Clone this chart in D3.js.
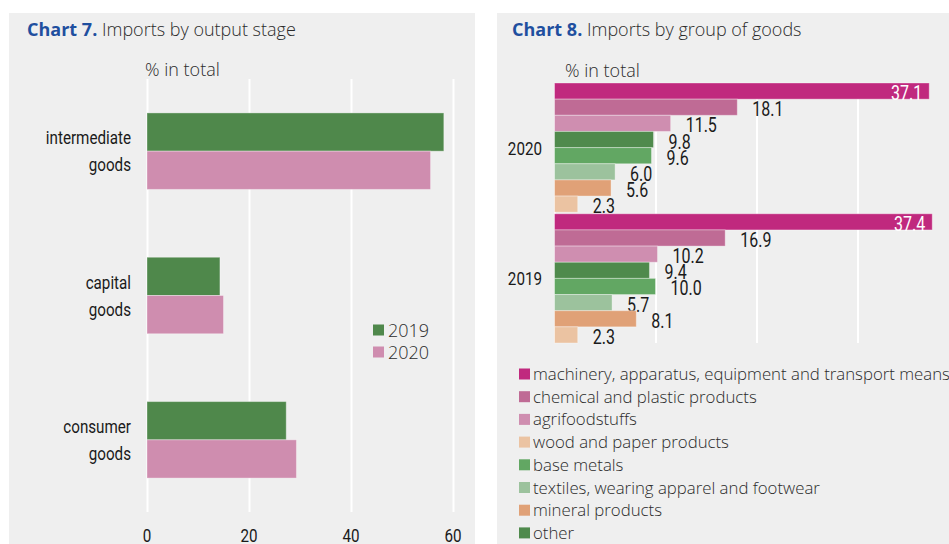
<!DOCTYPE html>
<html>
<head>
<meta charset="utf-8">
<script src="https://cdn.jsdelivr.net/npm/d3@7/dist/d3.min.js"></script>
<style>
  html, body { margin: 0; padding: 0; background: #ffffff; }
  svg { display: block; }
  .light { font-family: "Open Sans", "Noto Sans", sans-serif; font-weight: 300; fill: #2b2b2b; }
  .cond { font-family: Roboto, "Liberation Sans", sans-serif; fill: #1a1a1a; }
</style>
</head>
<body>
<script>
// ---- Chart 7 data ----
const stageCategories = [["intermediate", "goods"], ["capital", "goods"], ["consumer", "goods"]];
const stageYears = ["2019", "2020"];
const stage2019 = [58.2, 14.3, 27.3];
const stage2020 = [55.6, 15.0, 29.3];
const stageTicks = [0, 20, 40, 60];

// ---- Chart 8 data ----
const groupYears = ["2020", "2019"];
const goodsBarOrder = ["machinery", "chemical", "agrifood", "other", "base", "textiles", "mineral", "wood"];
const goods2020 = [37.1, 18.1, 11.5, 9.8, 9.6, 6.0, 5.6, 2.3];
const goods2019 = [37.4, 16.9, 10.2, 9.4, 10.0, 5.7, 8.1, 2.3];
const goodsTicks = [0, 10, 20, 30, 40];
const legendKeys = ["machinery", "chemical", "agrifood", "wood", "base", "textiles", "mineral", "other"];
const legendLabels = [
  "machinery, apparatus, equipment and transport means",
  "chemical and plastic products",
  "agrifoodstuffs",
  "wood and paper products",
  "base metals",
  "textiles, wearing apparel and footwear",
  "mineral products",
  "other"
];

const goodsColor = {
  machinery: "#c0297e", chemical: "#bf6b95", agrifood: "#cf8eb0", wood: "#ebc3a2",
  base: "#62a763", textiles: "#9cc29d", mineral: "#e0a177", other: "#4f8a4c"
};
const yearColor = { "2019": "#4f884b", "2020": "#cf8daf" };

const W = 949, H = 544;
const svg = d3.select("body").append("svg").attr("width", W).attr("height", H);

// condensed text helper (horizontal compression)
function condText(parent, x, y, txt, size, anchor, fill) {
  const g = parent.append("g").attr("transform", `translate(${x},${y}) scale(0.8,1)`);
  g.append("text").attr("class", "cond").attr("x", 0).attr("y", 0)
    .attr("text-anchor", anchor).style("font-size", size + "px")
    .style("fill", fill || "#1a1a1a").text(txt);
  return g;
}

// panels
svg.append("rect").attr("x", 9).attr("y", 13).attr("width", 466).attr("height", H - 13).attr("fill", "#efefef");
svg.append("rect").attr("x", 497).attr("y", 13).attr("width", W - 497).attr("height", H - 13).attr("fill", "#efefef");

// ================= Chart 7 =================
{
  const t = svg.append("text").attr("x", 27).attr("y", 36).attr("class", "light").style("font-size", "18px");
  t.append("tspan").text("Chart 7.").style("font-weight", "bold").style("fill", "#1f4f9f");
  t.append("tspan").text(" Imports by output stage");
  svg.append("text").attr("class", "light").attr("x", 145).attr("y", 76).style("font-size", "18px").text("% in total");

  const x = d3.scaleLinear().domain([0, 60]).range([147, 453]);
  const y = d3.scaleBand().domain(d3.range(stageCategories.length)).range([79, 512])
    .paddingInner(0.47).paddingOuter(0.235);
  const ySub = d3.scaleBand().domain(stageYears).range([0, y.bandwidth()]);

  // grid
  svg.append("g").attr("transform", "translate(0,512)")
    .call(d3.axisBottom(x).tickValues(stageTicks).tickSize(-433).tickFormat(""))
    .call(g => g.select(".domain").remove())
    .call(g => g.selectAll("line").attr("stroke", "#ffffff").attr("stroke-width", 2));

  // tick labels (positions from the scale)
  stageTicks.forEach(tv => condText(svg, x(tv), 542, d3.format("d")(tv), 19, "middle"));

  const rows = stageCategories.map((c, i) => ({ i, vals: [stage2019[i], stage2020[i]] }));
  const g = svg.append("g");
  rows.forEach(r => {
    stageYears.forEach((yr, k) => {
      g.append("rect")
        .attr("x", x(0))
        .attr("y", y(r.i) + ySub(yr))
        .attr("width", x(r.vals[k]) - x(0))
        .attr("height", ySub.bandwidth())
        .attr("fill", yearColor[yr])
        .attr("stroke", "#ffffff").attr("stroke-opacity", 0.35).attr("stroke-width", 1);
    });
    const cy = y(r.i) + y.bandwidth() / 2;
    condText(svg, 131, cy - 7, stageCategories[r.i][0], 19, "end");
    condText(svg, 131, cy + 20, stageCategories[r.i][1], 19, "end");
  });

  // legend
  stageYears.forEach((yr, k) => {
    const ly = 330 + k * 22;
    svg.append("rect").attr("x", 373).attr("y", ly - 5.5).attr("width", 11).attr("height", 11).attr("fill", yearColor[yr]);
    svg.append("text").attr("class", "light").attr("x", 388).attr("y", ly + 6.5).style("font-size", "18px").text(yr);
  });
}

// ================= Chart 8 =================
{
  const t = svg.append("text").attr("x", 512).attr("y", 36).attr("class", "light").style("font-size", "18px");
  t.append("tspan").text("Chart 8.").style("font-weight", "bold").style("fill", "#1f4f9f");
  t.append("tspan").text(" Imports by group of goods");
  svg.append("text").attr("class", "light").attr("x", 565).attr("y", 77).style("font-size", "18px").text("% in total");

  const x = d3.scaleLinear().domain([0, 40]).range([554.5, 958.5]);
  const y = d3.scaleBand().domain(groupYears).range([83, 343]).paddingInner(0.012);
  const ySub = d3.scaleBand().domain(goodsBarOrder).range([0, y.bandwidth()]);

  svg.append("g").attr("transform", "translate(0,343)")
    .call(d3.axisBottom(x).tickValues(goodsTicks).tickSize(-260).tickFormat(""))
    .call(g => g.select(".domain").remove())
    .call(g => g.selectAll("line").attr("stroke", "#ffffff").attr("stroke-width", 2));

  const data = { "2020": goods2020, "2019": goods2019 };
  groupYears.forEach(yr => {
    const vals = data[yr];
    goodsBarOrder.forEach((key, i) => {
      const v = vals[i];
      const by = y(yr) + ySub(key);
      svg.append("rect")
        .attr("x", x(0)).attr("y", by)
        .attr("width", x(v) - x(0)).attr("height", ySub.bandwidth())
        .attr("fill", goodsColor[key])
        .attr("stroke", "#ffffff").attr("stroke-opacity", 0.35).attr("stroke-width", 1);
      const inside = v > 30;
      condText(svg, inside ? x(v) - 7 : x(v) + 15, by + ySub.bandwidth() / 2 + 9,
        d3.format(".1f")(v), 20, inside ? "end" : "start", inside ? "#ffffff" : "#1a1a1a");
    });
    condText(svg, 542, y(yr) + y.bandwidth() / 2 + 7, yr, 19, "end");
  });

  // legend
  legendKeys.forEach((key, i) => {
    const ly = 374 + i * 22.7;
    svg.append("rect").attr("x", 519).attr("y", ly - 5.5).attr("width", 11).attr("height", 11).attr("fill", goodsColor[key]);
    svg.append("text").attr("class", "light").attr("x", 533).attr("y", ly + 6).style("font-size", "16.8px").text(legendLabels[i]);
  });
}
</script>
</body>
</html>
